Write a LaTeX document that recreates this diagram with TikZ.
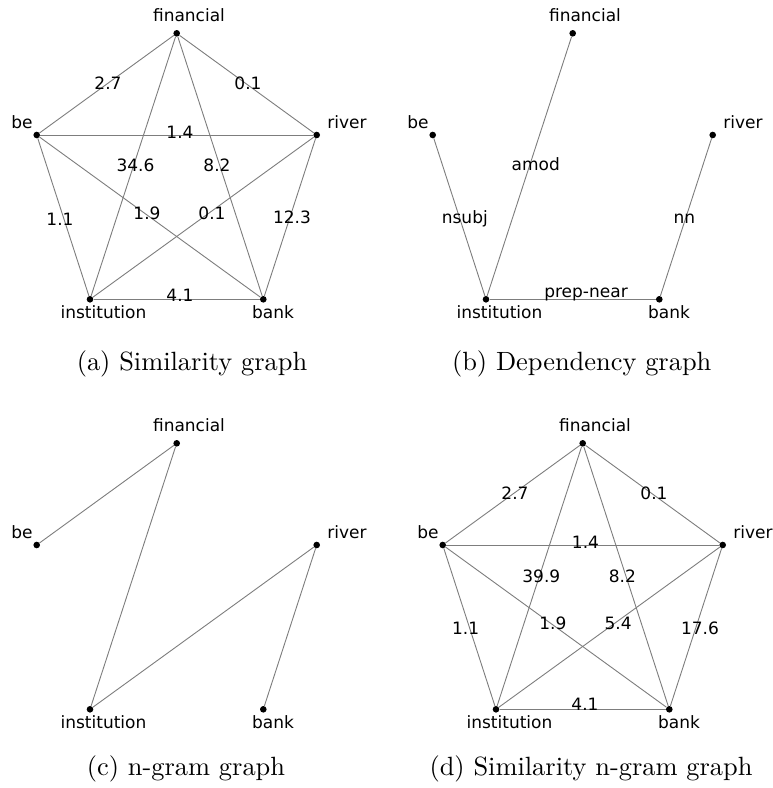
\documentclass[tikz,border=0pt]{standalone}
\usepackage{fontspec}
\newfontfamily\lblfont{DejaVu Sans}
\newfontfamily\capfont{lmroman10-regular}[Extension=.otf]
\definecolor{edgegray}{RGB}{125,125,125}
\tikzset{
  dot/.style={circle, fill=black, inner sep=0pt, minimum size=6.6pt},
  vlbl/.style={font=\lblfont\fontsize{17}{20}\selectfont, inner sep=0pt},
  elbl/.style={font=\lblfont\fontsize{17}{20}\selectfont, inner sep=0pt},
  edge/.style={draw=edgegray, line width=0.9pt},
  captext/.style={font=\capfont\fontsize{26.4}{30}\selectfont, inner sep=0pt, anchor=base},
}
\newcommand\mkverts[1]{%
  \node[dot] (#1fin) at (176.7,33.3) {};
  \node[dot] (#1be) at (36.7,135) {};
  \node[dot] (#1riv) at (316.7,135) {};
  \node[dot] (#1ins) at (90,299.3) {};
  \node[dot] (#1bank) at (263.3,299.3) {};
  \node[vlbl,anchor=base] (#1finL) at (189,21.7) {financial};
  \node[vlbl,anchor=base] (#1beL) at (22,128.3) {be};
  \node[vlbl,anchor=base] (#1rivL) at (347,128.3) {river};
  \node[vlbl,anchor=base] (#1insL) at (103.5,318.3) {institution};
  \node[vlbl,anchor=base] (#1bankL) at (273,318.3) {bank};
}
\newcommand\mkcomplete[1]{%
  \draw[edge] (#1fin) -- (#1be);
  \draw[edge] (#1fin) -- (#1riv);
  \draw[edge] (#1fin) -- (#1ins);
  \draw[edge] (#1fin) -- (#1bank);
  \draw[edge] (#1be) -- (#1riv);
  \draw[edge] (#1be) -- (#1ins);
  \draw[edge] (#1be) -- (#1bank);
  \draw[edge] (#1riv) -- (#1ins);
  \draw[edge] (#1riv) -- (#1bank);
  \draw[edge] (#1ins) -- (#1bank);
}
\begin{document}
\begin{tikzpicture}[x=1pt,y=-1pt]
\useasboundingbox (0,0) rectangle (772,788);
% (a) Similarity graph
\begin{scope}
  \mkverts{a}
  \mkcomplete{a}
  \node[elbl] (aw1) at (108,83.3) {2.7};
  \node[elbl] (aw2) at (248,83.3) {0.1};
  \node[elbl] (aw3) at (180,132) {1.4};
  \node[elbl] (aw4) at (135.5,165.8) {34.6};
  \node[elbl] (aw5) at (217,165.8) {8.2};
  \node[elbl] (aw6) at (60,219) {1.1};
  \node[elbl] (aw7) at (147,213.3) {1.9};
  \node[elbl] (aw8) at (212,213.3) {0.1};
  \node[elbl] (aw9) at (292,217.7) {12.3};
  \node[elbl] (aw10) at (180,295.3) {4.1};
  \node[captext] (acap) at (192,370) {(a) Similarity graph};
\end{scope}
% (b) Dependency graph
\begin{scope}[shift={(396,0)}]
  \mkverts{b}
  \draw[edge] (bbe) -- (bins);
  \draw[edge] (bfin) -- (bins);
  \draw[edge] (briv) -- (bbank);
  \draw[edge] (bins) -- (bbank);
  \node[elbl,anchor=base] (bw1) at (139.7,170.7) {amod};
  \node[elbl,anchor=base] (bw2) at (68.8,223.3) {nsubj};
  \node[elbl,anchor=base] (bw3) at (288.3,223.3) {nn};
  \node[elbl,anchor=base] (bw4) at (190,297.3) {prep-near};
  \node[captext] (bcap) at (185.7,370) {(b) Dependency graph};
\end{scope}
% (c) n-gram graph
\begin{scope}[shift={(0,410)}]
  \mkverts{c}
  \draw[edge] (cbe) -- (cfin);
  \draw[edge] (cfin) -- (cins);
  \draw[edge] (cins) -- (criv);
  \draw[edge] (criv) -- (cbank);
  \node[captext] (ccap) at (186,365.5) {(c) n-gram graph};
\end{scope}
% (d) Similarity n-gram graph
\begin{scope}[shift={(406,410)}]
  \mkverts{d}
  \mkcomplete{d}
  \node[elbl] (dw1) at (109,83.3) {2.7};
  \node[elbl] (dw2) at (248,83.3) {0.1};
  \node[elbl] (dw3) at (179.5,132.5) {1.4};
  \node[elbl] (dw4) at (135.3,166) {39.9};
  \node[elbl] (dw5) at (216.3,166) {8.2};
  \node[elbl] (dw6) at (59.6,218.5) {1.1};
  \node[elbl] (dw7) at (146.8,213) {1.9};
  \node[elbl] (dw8) at (212.2,213) {5.4};
  \node[elbl] (dw9) at (294,218) {17.6};
  \node[elbl] (dw10) at (179,294) {4.1};
  \node[captext] (dcap) at (185,365.5) {(d) Similarity n-gram graph};
\end{scope}
\end{tikzpicture}
\end{document}
